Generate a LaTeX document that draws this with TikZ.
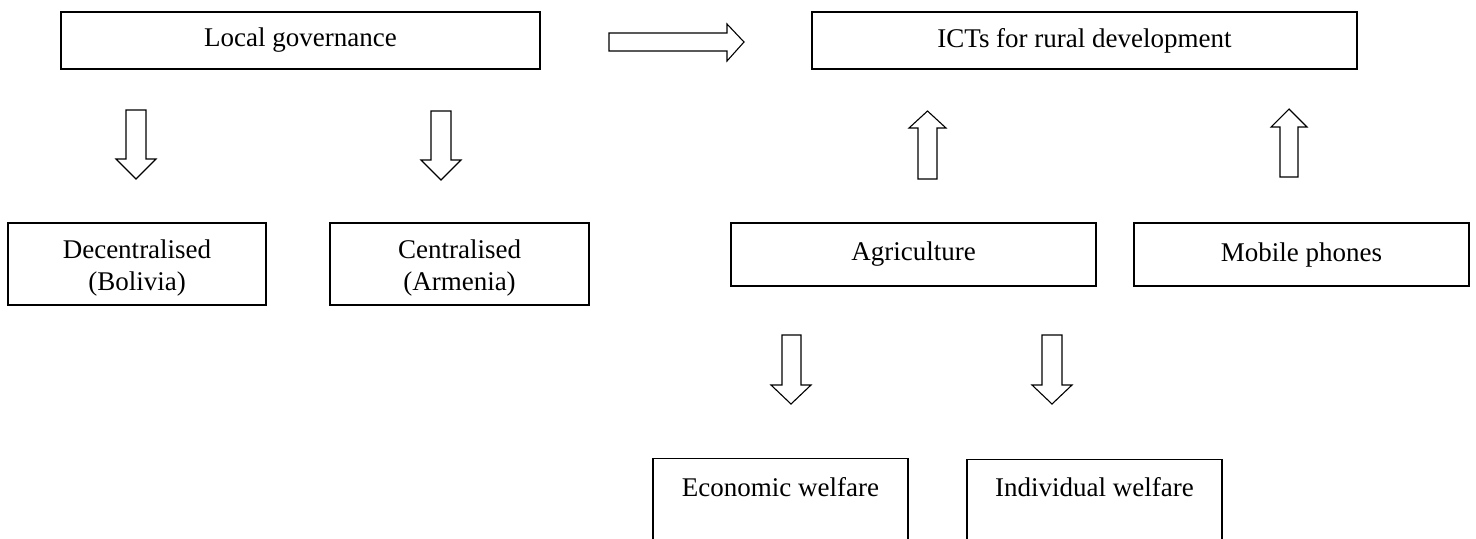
\documentclass[tikz,border=0pt]{standalone}
\usepackage{fontspec}
\setmainfont{Liberation Serif}
\begin{document}
\begin{tikzpicture}[x=0.5pt,y=-0.5pt,
  txt/.style={inner sep=0pt, align=center, font=\fontsize{13.5pt}{16pt}\selectfont},
  box/.style={draw=black, line width=0.6pt, rectangle, txt},
  blockarrow/.style={draw=black, line width=0.55pt, fill=white, line join=miter}]
\useasboundingbox (0,0) rectangle (1476,538);
\clip (0,0) rectangle (1476,538);
% top row
\node[box, minimum width=479*0.5pt, minimum height=57*0.5pt] (lg) at (300.5,40.5) {Local governance};
\node[box, minimum width=545*0.5pt, minimum height=57*0.5pt] (ict) at (1084.5,40.5) {ICTs for rural development};
% second row
\node[box, minimum width=258*0.5pt, minimum height=82*0.5pt,
      label={[txt, yshift=-2pt]center:Decentralised\\(Bolivia)}] (dec) at (137,264) {};
\node[box, minimum width=259*0.5pt, minimum height=82*0.5pt,
      label={[txt, yshift=-2pt]center:Centralised\\(Armenia)}] (cen) at (459.5,264) {};
\node[box, minimum width=365*0.5pt, minimum height=63*0.5pt] (agr) at (913.5,254.5) {Agriculture};
\node[box, minimum width=335*0.5pt, minimum height=63*0.5pt] (mob) at (1301.5,254.5) {Mobile phones};
% bottom row (cut off by the page edge)
\node[box, minimum width=255*0.5pt, minimum height=160*0.5pt, anchor=north,
      label={[txt, anchor=center, yshift=-14.5pt]north:Economic welfare}] (eco) at (780.5,458) {};
\node[box, minimum width=255*0.5pt, minimum height=160*0.5pt, anchor=north,
      label={[txt, anchor=center, yshift=-14pt]north:Individual welfare}] (ind) at (1094.5,459) {};
% block arrows
\draw[blockarrow] (609,33) -- (727,33) -- (727,24) -- (744,42) -- (727,61) -- (727,51) -- (609,51) -- cycle;
\draw[blockarrow] (126,110) -- (146,110) -- (146,159) -- (156,159) -- (136,179) -- (116,159) -- (126,159) -- cycle;
\draw[blockarrow] (431,111) -- (451,111) -- (451,160) -- (461,160) -- (441,180) -- (421,160) -- (431,160) -- cycle;
\draw[blockarrow] (918,179) -- (937,179) -- (937,128) -- (946,128) -- (927.5,111) -- (909,128) -- (918,128) -- cycle;
\draw[blockarrow] (1280,177) -- (1298,177) -- (1298,127) -- (1307,127) -- (1289,109) -- (1271,127) -- (1280,127) -- cycle;
\draw[blockarrow] (782,335) -- (801,335) -- (801,385) -- (811,385) -- (791,404) -- (771,385) -- (782,385) -- cycle;
\draw[blockarrow] (1042,335) -- (1062,335) -- (1062,385) -- (1072,385) -- (1052,404) -- (1032,385) -- (1042,385) -- cycle;
\end{tikzpicture}
\end{document}
